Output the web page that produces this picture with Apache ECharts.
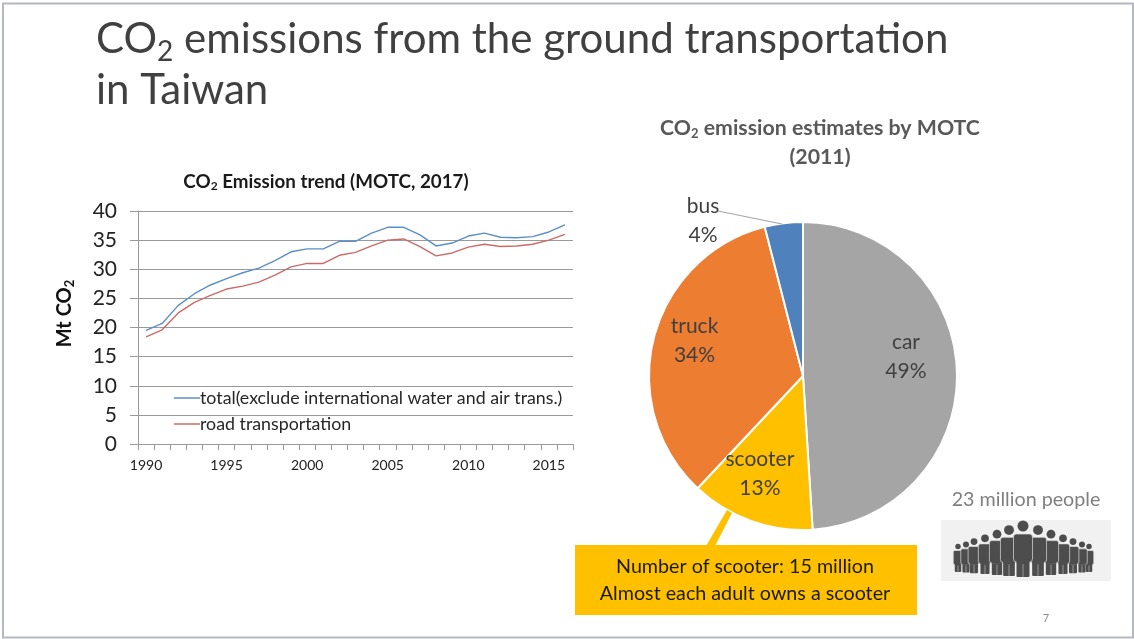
<!DOCTYPE html>
<html>
<head>
<meta charset="utf-8">
<style>html,body{margin:0;padding:0;background:#fff}#c{width:1134px;height:639px}</style>
<script src="https://cdn.jsdelivr.net/npm/echarts@6/dist/echarts.min.js"></script>
</head>
<body>
<div id="c"></div>
<script>
const years = ['1990','1991','1992','1993','1994','1995','1996','1997','1998','1999','2000','2001','2002','2003','2004','2005','2006','2007','2008','2009','2010','2011','2012','2013','2014','2015','2016'];
const totalEmissions = [19.5,20.7,23.8,25.8,27.3,28.4,29.4,30.2,31.5,33,33.5,33.5,34.8,34.8,36.2,37.2,37.2,35.9,34,34.5,35.7,36.2,35.5,35.4,35.6,36.4,37.6];
const roadEmissions = [18.4,19.6,22.5,24.3,25.5,26.6,27.1,27.8,29,30.4,31,31,32.4,32.9,34,35,35.2,33.9,32.3,32.8,33.8,34.3,33.9,34,34.3,35,36];
const sectors = ['car','scooter','truck','bus'];
const sectorShares = [49,13,34,4];
const sectorColors = ['#a5a5a5','#ffc000','#ed7d31','#4f81bd'];
const totalName = 'total(exclude international water and air trans.)';
const roadName = 'road transportation';

const font = 'Lato, "Noto Sans", sans-serif';

// Population pictogram: each figure is [centre x, scale], tallest in the middle.
const crowd = [[958,0.5],[966,0.55],[974,0.62],[985,0.7],[997,0.8],[1009,0.9],[1023,1],[1038,0.9],[1051,0.8],[1063,0.7],[1073,0.62],[1082,0.55],[1089,0.5]];
function person(cx, s) {
  const foot = 567 + 10 * s, head = foot - 51 * s, ink = '#4d4d4d', rim = '#dcdcdc';
  const order = Math.round(s * 100) + 3;
  return [
    {type:'rect', z:order, shape:{x:cx-6.5*s, y:head+30*s, width:13*s, height:21*s, r:1}, style:{fill:ink}},
    {type:'rect', z:order, shape:{x:cx-9.5*s, y:head+8*s, width:19*s, height:28*s, r:3*s}, style:{fill:ink, stroke:rim, lineWidth:0.7}},
    {type:'rect', z:order, shape:{x:cx-6.5*s, y:head+28*s, width:13*s, height:9*s}, style:{fill:ink}},
    {type:'line', z:order, shape:{x1:cx, y1:head+38*s, x2:cx, y2:foot}, style:{stroke:rim, lineWidth:0.5}},
    {type:'circle', z:order, shape:{cx:cx, cy:head, r:5.5*s}, style:{fill:ink}}
  ];
}
const crowdShapes = crowd.flatMap(p => person(p[0], p[1]));

const chart = echarts.init(document.getElementById('c'));
chart.setOption({
  animation:false,
  backgroundColor:'#fff',
  textStyle:{fontFamily:font},
  title:[
    {text:'CO{s|2} emissions from the ground transportation', left:91, top:7,
     textStyle:{fontFamily:font, fontSize:42, fontWeight:'normal', color:'#404040',
       rich:{s:{fontFamily:font, fontSize:28, fontWeight:'normal', color:'#404040', verticalAlign:'middle', padding:[26,0,0,0]}}}},
    {text:'in Taiwan', left:91, top:64,
     textStyle:{fontFamily:font, fontSize:42, fontWeight:'normal', color:'#404040'}},
    {text:'CO{s|2} Emission trend (MOTC, 2017)', left:321, top:166, textAlign:'center',
     textStyle:{fontFamily:font, fontSize:18.8, fontWeight:'bold', color:'#1a1a1a',
       rich:{s:{fontFamily:font, fontSize:12, fontWeight:'bold', color:'#1a1a1a', verticalAlign:'middle', padding:[9,0,0,0]}}}},
    {text:'CO{s|2} emission estimates by MOTC', left:815, top:112, textAlign:'center',
     textStyle:{fontFamily:font, fontSize:21.3, fontWeight:'bold', color:'#595959',
       rich:{s:{fontFamily:font, fontSize:13, fontWeight:'bold', color:'#595959', verticalAlign:'middle', padding:[10,0,0,0]}}}},
    {text:'(2011)', left:815, top:142, textAlign:'center',
     textStyle:{fontFamily:font, fontSize:21.3, fontWeight:'bold', color:'#595959'}}
  ],
  legend:{
    left:169, top:384, orient:'vertical', itemWidth:26, itemHeight:1.5, itemGap:8,
    icon:'rect', selectedMode:false,
    textStyle:{fontFamily:font, fontSize:17.8, color:'#262626', padding:[0,0,0,-5]},
    data:[totalName, roadName]
  },
  grid:{left:138, right:561, top:211, height:233, containLabel:false},
  xAxis:{
    type:'category', data:years, boundaryGap:true,
    axisLine:{lineStyle:{color:'#9a9a9a', width:1}},
    axisTick:{show:true, alignWithLabel:false, interval:0, length:6, lineStyle:{color:'#9a9a9a'}},
    axisLabel:{interval:4, fontSize:14, color:'#222', margin:14, fontFamily:font},
    splitLine:{show:false}
  },
  yAxis:{
    type:'value', min:0, max:40, interval:5,
    name:'Mt CO{s|2}', nameLocation:'middle', nameRotate:90, nameGap:62,
    nameTextStyle:{fontFamily:font, fontSize:20, fontWeight:'bold', color:'#111', padding:[0,0,0,28],
      rich:{s:{fontFamily:font, fontSize:13, fontWeight:'bold', color:'#111', verticalAlign:'middle', padding:[9,0,0,0]}}},
    axisLine:{show:true, lineStyle:{color:'#9a9a9a', width:1}},
    axisTick:{show:true, length:8, lineStyle:{color:'#9a9a9a'}},
    axisLabel:{fontSize:21, color:'#222', margin:21, fontFamily:font},
    splitLine:{lineStyle:{color:'#9a9a9a', width:1}}
  },
  series:[
    {name:totalName, type:'line', data:totalEmissions, symbol:'none', smooth:false,
     itemStyle:{color:'#5b8fc9'}, lineStyle:{color:'#5b8fc9', width:1.4}},
    {name:roadName, type:'line', data:roadEmissions, symbol:'none', smooth:false,
     itemStyle:{color:'#cc6a68'}, lineStyle:{color:'#cc6a68', width:1.4}},
    {type:'pie', center:[803,376], radius:[0,154], startAngle:90, clockwise:true, z:5,
     data:sectors.map((n,i)=>({name:n, value:sectorShares[i], itemStyle:{color:sectorColors[i]}})),
     itemStyle:{borderColor:'#fff', borderWidth:2},
     label:{show:true, position:'inside', formatter:'{b}\n{d}%', fontFamily:font, fontSize:21, lineHeight:29, color:'#404040'},
     labelLine:{show:false},
     labelLayout:function(p){
       const shift = {car:[23,-17], scooter:[-16,22], truck:[-31,-15], bus:[-90,-76]}[sectors[p.dataIndex]];
       return {dx:shift[0], dy:shift[1]};
     }
    }
  ],
  graphic:[
    {type:'rect', z:0, silent:true, shape:{x:3, y:3.5, width:1130, height:634}, style:{fill:'none', stroke:'#b4b8bd', lineWidth:2}},
    // callout under the scooter slice
    {type:'polygon', z:20, shape:{points:[[727,510],[732,513],[715,546],[706,546]]}, style:{fill:'#ffc000'}},
    {type:'rect', z:20, shape:{x:575, y:545, width:342, height:70}, style:{fill:'#ffc000'}},
    {type:'text', z:21, style:{x:745, y:567, text:'Number of scooter: 15 million', align:'center', verticalAlign:'middle', font:'19.7px '+font, fill:'#1a1a00'}},
    {type:'text', z:21, style:{x:745, y:594, text:'Almost each adult owns a scooter', align:'center', verticalAlign:'middle', font:'19.7px '+font, fill:'#1a1a00'}},
    // leader line from the bus label
    {type:'line', z:20, shape:{x1:718, y1:211, x2:782, y2:224}, style:{stroke:'#a6a6a6', lineWidth:1.2}},
    // population pictogram
    {type:'text', z:21, style:{x:1026, y:500, text:'23 million people', align:'center', verticalAlign:'middle', font:'19.7px '+font, fill:'#7f7f7f'}},
    {type:'rect', z:2, shape:{x:941, y:520, width:170, height:61}, style:{fill:'#f1f1f1'}},
    ...crowdShapes,
    {type:'text', z:21, style:{x:1046, y:618, text:'7', align:'center', verticalAlign:'middle', font:'11px '+font, fill:'#8c8c8c'}}
  ]
});
</script>
</body>
</html>
